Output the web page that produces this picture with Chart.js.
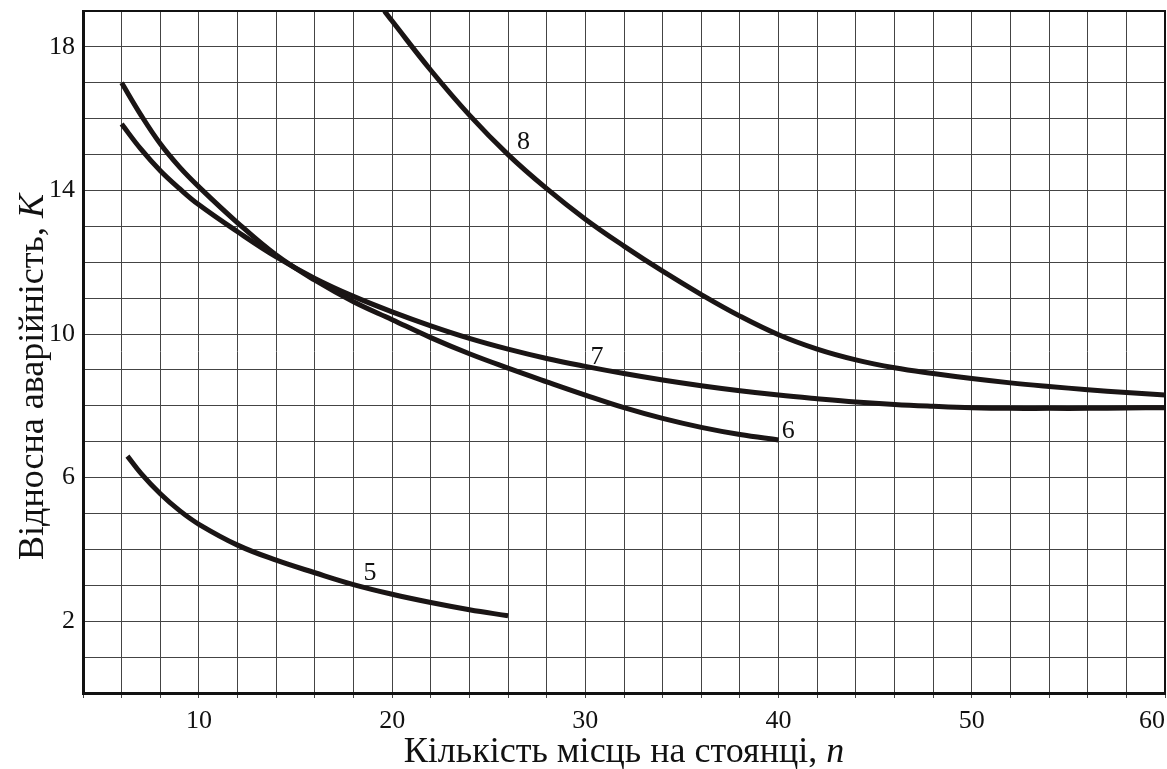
<!DOCTYPE html>
<html>
<head>
<meta charset="utf-8">
<script src="https://cdn.jsdelivr.net/npm/chart.js@4"></script>
<style>
body { margin: 0; background: #fff; }
#wrap { width: 1167px; height: 769px; }
</style>
</head>
<body>
<div id="wrap"><canvas id="grafik"></canvas></div>
<script>
// krive 5-8, ocitano sa slike (n - broj mjesta, K - relativna udesnost)
const n5 = [6.3, 7, 8, 9, 10, 12, 14, 16, 18, 20, 22, 24, 26];
const k5 = [6.6, 6.12, 5.55, 5.08, 4.7, 4.12, 3.7, 3.35, 3.02, 2.75, 2.52, 2.32, 2.15];

const n6 = [6, 7, 8, 9, 10, 12, 14, 16, 18, 20, 22, 24, 26, 28, 30, 32, 34, 36, 38, 40];
const k6 = [17.0, 16.1, 15.3, 14.65, 14.1, 13.1, 12.2, 11.5, 10.9, 10.4, 9.9, 9.45, 9.05, 8.67, 8.3, 7.95, 7.65, 7.4, 7.2, 7.05];

const n7 = [6, 7, 8, 9, 10, 12, 14, 16, 18, 20, 22, 24, 26, 28, 30, 32, 34, 36, 38, 40, 42, 44, 46, 48, 50, 52, 54, 56, 58, 60];
const k7 = [15.85, 15.15, 14.55, 14.05, 13.6, 12.85, 12.15, 11.55, 11.05, 10.62, 10.23, 9.88, 9.58, 9.32, 9.1, 8.9, 8.72, 8.56, 8.42, 8.3, 8.2, 8.11, 8.04, 7.99, 7.95, 7.93, 7.93, 7.93, 7.94, 7.95];

const n8 = [19.6, 20, 22, 24, 26, 28, 30, 32, 34, 36, 38, 40, 42, 44, 46, 48, 50, 52, 54, 56, 58, 60];
const k8 = [19.0, 18.72, 17.35, 16.1, 15.0, 14.05, 13.2, 12.45, 11.75, 11.1, 10.5, 9.98, 9.58, 9.28, 9.06, 8.9, 8.76, 8.64, 8.54, 8.45, 8.37, 8.3];

// oznake krivih
const oznake = ["5", "6", "7", "8"];
const oznakeN = [18.85, 40.5, 30.6, 26.8];
const oznakeK = [3.35, 7.3, 9.35, 15.35];

const xOznake = [10, 20, 30, 40, 50, 60];
const yOznake = [2, 6, 10, 14, 18];

const naslovX = ["Кількість місць на стоянці, ", "n"];
const naslovY = ["Відносна аварійність, ", "K"];

const serif = "'Liberation Serif', 'Times New Roman', serif";
const boja = "#1a1515";

function tacke(nx, ky) {
    return nx.map((n, i) => ({ x: n, y: ky[i] }));
}

function kriva(nx, ky) {
    return {
        data: tacke(nx, ky),
        borderColor: boja,
        borderWidth: 5,
        pointRadius: 0,
        tension: 0.4,
        fill: false
    };
}

// okvir, nazivi osa i brojevi krivih
const dodatak = {
    id: "dodatak",
    afterDraw(chart) {
        const ctx = chart.ctx;
        const a = chart.chartArea;
        const sx = chart.scales.x;
        const sy = chart.scales.y;
        ctx.save();

        ctx.strokeStyle = "#111";
        ctx.lineWidth = 2;
        ctx.strokeRect(a.left, a.top, a.right - a.left, a.bottom - a.top);

        ctx.fillStyle = "#111";
        ctx.textAlign = "center";
        ctx.textBaseline = "middle";
        ctx.font = "26px " + serif;
        oznake.forEach((t, i) => {
            ctx.fillText(t, sx.getPixelForValue(oznakeN[i]), sy.getPixelForValue(oznakeK[i]));
        });

        // naslov x ose
        const f1 = "36px " + serif;
        const f2 = "italic 36px " + serif;
        ctx.textAlign = "left";
        ctx.textBaseline = "alphabetic";
        ctx.font = f1;
        const wx1 = ctx.measureText(naslovX[0]).width;
        ctx.font = f2;
        const wx2 = ctx.measureText(naslovX[1]).width;
        let x0 = (a.left + a.right) / 2 - (wx1 + wx2) / 2;
        ctx.font = f1;
        ctx.fillText(naslovX[0], x0, 762);
        ctx.font = f2;
        ctx.fillText(naslovX[1], x0 + wx1, 762);

        // naslov y ose
        ctx.translate(43, 377);
        ctx.rotate(-Math.PI / 2);
        ctx.font = f1;
        const wy1 = ctx.measureText(naslovY[0]).width;
        ctx.font = f2;
        const wy2 = ctx.measureText(naslovY[1]).width;
        x0 = -(wy1 + wy2) / 2;
        ctx.font = f1;
        ctx.fillText(naslovY[0], x0, 0);
        ctx.font = f2;
        ctx.fillText(naslovY[1], x0 + wy1, 0);

        ctx.restore();
    }
};

new Chart(document.getElementById("grafik").getContext("2d"), {
    type: "line",
    data: {
        datasets: [kriva(n5, k5), kriva(n6, k6), kriva(n7, k7), kriva(n8, k8)]
    },
    options: {
        responsive: true,
        maintainAspectRatio: false,
        animation: false,
        layout: { padding: { top: 11, right: 2, left: 0, bottom: 0 } },
        plugins: {
            legend: { display: false },
            tooltip: { enabled: false }
        },
        scales: {
            x: {
                type: "linear",
                min: 4,
                max: 60,
                afterFit: s => { s.height = 76; s.paddingLeft = 0; s.paddingRight = 0; },
                ticks: {
                    stepSize: 2,
                    autoSkip: false,
                    maxRotation: 0,
                    align: "inner",
                    padding: 8,
                    color: "#111",
                    font: { family: serif, size: 26 },
                    callback: v => xOznake.includes(v) ? String(v) : ""
                },
                grid: { color: "#444", lineWidth: 1, tickLength: 5 },
                border: { color: "#111", width: 3 }
            },
            y: {
                min: 0,
                max: 19,
                afterFit: s => { s.width = 83; s.paddingTop = 0; s.paddingBottom = 0; },
                ticks: {
                    stepSize: 1,
                    autoSkip: false,
                    padding: 8,
                    color: "#111",
                    font: { family: serif, size: 26 },
                    callback: v => yOznake.includes(v) ? String(v) : ""
                },
                grid: { color: "#444", lineWidth: 1, drawTicks: false },
                border: { color: "#111", width: 3 }
            }
        }
    },
    plugins: [dodatak]
});
</script>
</body>
</html>
